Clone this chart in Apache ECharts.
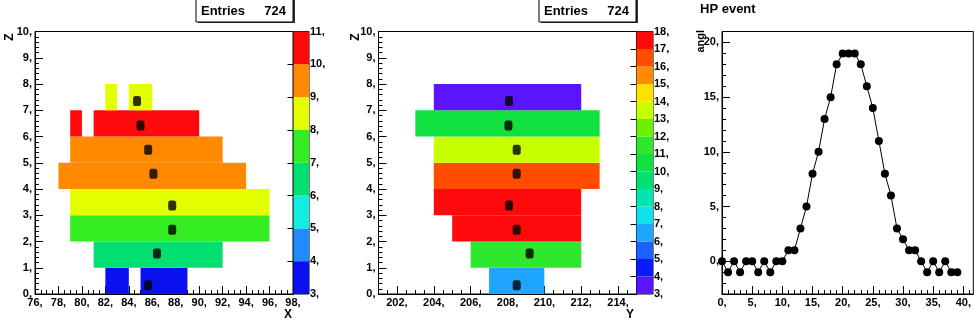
<!DOCTYPE html>
<html>
<head>
<meta charset="utf-8">
<script src="https://cdn.jsdelivr.net/npm/echarts@6/dist/echarts.min.js"></script>
<style>
html,body{margin:0;padding:0;background:#fff;}
#c{width:974px;height:326px;}
</style>
</head>
<body>
<div id="c"></div>
<script>
// ---------- Panel 1 : X-Z view ----------
// cells: [xStart, xEnd, zStart, zEnd, value]
const P1_CELLS = [
  [82, 84, 0, 1, 3.5], [85, 89, 0, 1, 3.5],
  [81, 92, 1, 2, 6.5],
  [79, 96, 2, 3, 7.5],
  [79, 96, 3, 4, 8.5],
  [78, 94, 4, 5, 9.5],
  [79, 92, 5, 6, 9.5],
  [79, 80, 6, 7, 10.5], [81, 90, 6, 7, 10.5],
  [82, 83, 7, 8, 8.5], [84, 86, 7, 8, 8.5]
];
const P1_MARKERS = [[84.7, 7.35], [85.0, 6.42], [85.65, 5.5], [86.1, 4.58], [87.7, 3.37], [87.7, 2.45], [86.4, 1.54], [85.65, 0.33]];
const P1_ZMIN = 3, P1_ZMAX = 11;
const P1_COLORS = ['#0a10f0', '#1e8cff', '#10eee0', '#00e070', '#33ec22', '#e4ff00', '#ff8a00', '#ff0a0a'];
const P1_XTICKS = [76, 78, 80, 82, 84, 86, 88, 90, 92, 94, 96, 98];
const P1_ZTICKS = [0, 1, 2, 3, 4, 5, 6, 7, 8, 9, 10];
const P1_CBTICKS = [3, 4, 5, 6, 7, 8, 9, 10, 11];

// ---------- Panel 2 : Y-Z view ----------
const P2_CELLS = [
  [207, 210, 0, 1, 6.5],
  [206, 212, 1, 2, 11.5],
  [205, 212, 2, 3, 17.5],
  [204, 212, 3, 4, 17.5],
  [204, 213, 4, 5, 16.5],
  [204, 213, 5, 6, 13.5],
  [203, 213, 6, 7, 10.5],
  [204, 212, 7, 8, 3.5]
];
const P2_MARKERS = [[208.08, 7.35], [208.05, 6.42], [208.5, 5.5], [208.5, 4.58], [208.08, 3.37], [208.5, 2.45], [209.2, 1.54], [208.5, 0.33]];
const P2_ZMIN = 3, P2_ZMAX = 18;
const P2_COLORS = ['#5a14ff', '#0a1cff', '#1e60ff', '#1ea6ff', '#10e0ee', '#00e6b0', '#00e070', '#10e040', '#2ee82e', '#6cf000', '#c8ff00', '#ffe000', '#ff8c00', '#ff4c00', '#ff0a0a'];
const P2_XTICKS = [202, 204, 206, 208, 210, 212, 214];
const P2_ZTICKS = [0, 1, 2, 3, 4, 5, 6, 7, 8, 9, 10];
const P2_CBTICKS = [3, 4, 5, 6, 7, 8, 9, 10, 11, 12, 13, 14, 15, 16, 17, 18];

// ---------- Panel 3 : HP event ----------
const P3_X = [0,1,2,3,4,5,6,7,8,9,10,11,12,13,14,15,16,17,18,19,20,21,22,23,24,25,26,27,28,29,30,31,32,33,34,35,36,37,38,39];
const P3_Y = [0,-1,0,-1,0,0,-1,0,-1,0,0,1,1,3,5,8,10,13,15,18,19,19,19,18,16,14,11,8,6,3,2,1,1,0,-1,0,-1,0,-1,-1];
const P3_XTICKS = [0, 5, 10, 15, 20, 25, 30, 35, 40];
const P3_YTICKS = [0, 5, 10, 15, 20];

const FONT = 'Liberation Sans';
const TOP = 31.5, HEIGHT = 262.5;

function steps(min, max, step) {
  const out = [];
  for (let v = min; v <= max + 1e-9; v += step) out.push(Math.round(v * 1000) / 1000);
  return out;
}
function fmt(v) { return (Math.round(v * 1000) / 1000) + ','; }

function axisPair(gridIndex, min, max, majors, minorStep, position) {
  const major = {
    type: 'value', gridIndex, min, max, position,
    axisLine: { show: true, onZero: false, lineStyle: { color: '#000', width: 1 } },
    axisTick: { show: true, inside: true, length: 8, customValues: majors, lineStyle: { color: '#000', width: 1 } },
    axisLabel: { show: true, customValues: majors, formatter: fmt, color: '#000', fontFamily: FONT, fontWeight: 'bold', fontSize: 11, margin: 3 },
    splitLine: { show: false }
  };
  const minor = {
    type: 'value', gridIndex, min, max, position,
    axisLine: { show: false, onZero: false },
    axisTick: { show: true, inside: true, length: 4, customValues: steps(Math.ceil(min / minorStep) * minorStep, max, minorStep), lineStyle: { color: '#000', width: 1 } },
    axisLabel: { show: false },
    splitLine: { show: false }
  };
  return [major, minor];
}

function cbAxes(gridIndex, min, max, ticks) {
  const x = { type: 'value', gridIndex, min: 0, max: 1, show: false };
  const y = {
    type: 'value', gridIndex, min, max, interval: 1, position: 'right',
    axisLine: { show: false },
    axisTick: { show: true, inside: true, length: 6, customValues: ticks, lineStyle: { color: '#000' } },
    axisLabel: { show: true, customValues: ticks, formatter: fmt, color: '#000', fontFamily: FONT, fontWeight: 'bold', fontSize: 11, margin: 1 },
    splitLine: { show: false }
  };
  return [x, y];
}

function cellSeries(cells, colors, zmin, xi, yi) {
  return {
    type: 'custom', xAxisIndex: xi, yAxisIndex: yi, silent: true,
    data: cells,
    renderItem: function (params, api) {
      const a = api.coord([api.value(0), api.value(3)]);
      const b = api.coord([api.value(1), api.value(2)]);
      const c = colors[Math.floor(api.value(4) - zmin)];
      return { type: 'rect', shape: { x: a[0], y: a[1], width: b[0] - a[0], height: b[1] - a[1] }, style: { fill: c } };
    }
  };
}

function cbSeries(colors, zmin, xi, yi) {
  const data = colors.map((c, i) => [zmin + i, zmin + i + 1, i]);
  return {
    type: 'custom', xAxisIndex: xi, yAxisIndex: yi, silent: true,
    data,
    renderItem: function (params, api) {
      const a = api.coord([0, api.value(1)]);
      const b = api.coord([1, api.value(0)]);
      return { type: 'rect', shape: { x: a[0], y: a[1], width: b[0] - a[0], height: b[1] - a[1] }, style: { fill: colors[api.value(2)] } };
    }
  };
}

function markerSeries(data, xi, yi) {
  return {
    type: 'scatter', xAxisIndex: xi, yAxisIndex: yi, silent: true,
    symbol: 'roundRect', symbolSize: [8, 10], itemStyle: { color: '#000' },
    data
  };
}

const grids = [
  { left: 35, top: TOP, width: 258, height: HEIGHT, show: true, borderColor: '#000', borderWidth: 1 },
  { left: 293.5, top: TOP, width: 15.5, height: HEIGHT, show: true, borderColor: '#000', borderWidth: 1 },
  { left: 378.5, top: TOP, width: 258, height: HEIGHT, show: true, borderColor: '#000', borderWidth: 1 },
  { left: 636.5, top: TOP, width: 16.5, height: HEIGHT, show: true, borderColor: '#000', borderWidth: 1 },
  { left: 722, top: TOP, width: 253, height: HEIGHT, show: true, borderColor: '#000', borderWidth: 1 }
];

const p1x = axisPair(0, 76, 98, P1_XTICKS, 0.5, 'bottom');
const p1y = axisPair(0, 0, 10, P1_ZTICKS, 0.2, 'left');
const cb1 = cbAxes(1, P1_ZMIN, P1_ZMAX, P1_CBTICKS);
const p2x = axisPair(2, 201, 215, P2_XTICKS, 0.5, 'bottom');
const p2y = axisPair(2, 0, 10, P2_ZTICKS, 0.2, 'left');
const cb2 = cbAxes(3, P2_ZMIN, P2_ZMAX, P2_CBTICKS);
const p3x = axisPair(4, 0, 41.65, P3_XTICKS, 1, 'bottom');
const p3y = axisPair(4, -3, 21, P3_YTICKS, 1, 'left');

const xAxes = [p1x[0], p1x[1], cb1[0], p2x[0], p2x[1], cb2[0], p3x[0], p3x[1]];
const yAxes = [p1y[0], p1y[1], cb1[1], p2y[0], p2y[1], cb2[1], p3y[0], p3y[1]];

function statsBox(x, w) {
  return [
    { type: 'rect', shape: { x: x + 2, y: -2, width: w, height: 25 }, style: { fill: '#333' }, z: 10 },
    { type: 'rect', shape: { x: x, y: -3, width: w, height: 25 }, style: { fill: '#fff', stroke: '#000', lineWidth: 1 }, z: 11 },
    { type: 'text', x: x + 5, y: 11, style: { text: 'Entries', font: 'bold 13px ' + FONT, fill: '#000', verticalAlign: 'middle', textAlign: 'left' }, z: 12 },
    { type: 'text', x: x + w - 7, y: 11, style: { text: '724', font: 'bold 13px ' + FONT, fill: '#000', verticalAlign: 'middle', textAlign: 'right' }, z: 12 }
  ];
}

const graphics = [].concat(
  statsBox(196, 97),
  statsBox(539, 97),
  [
    { type: 'text', x: 700, y: 9, style: { text: 'HP event', font: 'bold 13px ' + FONT, fill: '#000', verticalAlign: 'middle' } },
    { type: 'text', x: 10, y: 37, rotation: Math.PI / 2, style: { text: 'Z', font: 'bold 12px ' + FONT, fill: '#000', textAlign: 'center', verticalAlign: 'middle' } },
    { type: 'text', x: 356, y: 37, rotation: Math.PI / 2, style: { text: 'Z', font: 'bold 12px ' + FONT, fill: '#000', textAlign: 'center', verticalAlign: 'middle' } },
    { type: 'text', x: 701, y: 30, rotation: Math.PI / 2, style: { text: 'angl', font: 'bold 11px ' + FONT, fill: '#000', textAlign: 'right', verticalAlign: 'middle' } },
    { type: 'text', x: 288, y: 315, style: { text: 'X', font: 'bold 12px ' + FONT, fill: '#000', textAlign: 'center', verticalAlign: 'middle' } },
    { type: 'text', x: 630, y: 315, style: { text: 'Y', font: 'bold 12px ' + FONT, fill: '#000', textAlign: 'center', verticalAlign: 'middle' } }
  ]
);

const chart = echarts.init(document.getElementById('c'), null, { renderer: 'canvas' });
chart.setOption({
  animation: false,
  backgroundColor: '#fff',
  grid: grids,
  xAxis: xAxes,
  yAxis: yAxes,
  graphic: graphics,
  series: [
    cellSeries(P1_CELLS, P1_COLORS, P1_ZMIN, 0, 0),
    markerSeries(P1_MARKERS, 0, 0),
    cbSeries(P1_COLORS, P1_ZMIN, 2, 2),
    cellSeries(P2_CELLS, P2_COLORS, P2_ZMIN, 3, 3),
    markerSeries(P2_MARKERS, 3, 3),
    cbSeries(P2_COLORS, P2_ZMIN, 5, 5),
    {
      type: 'line', xAxisIndex: 6, yAxisIndex: 6, silent: true,
      data: P3_X.map((x, i) => [x, P3_Y[i]]),
      symbol: 'circle', symbolSize: 8, showAllSymbol: true,
      lineStyle: { color: '#000', width: 1 },
      itemStyle: { color: '#000' }
    }
  ]
});
</script>
</body>
</html>
